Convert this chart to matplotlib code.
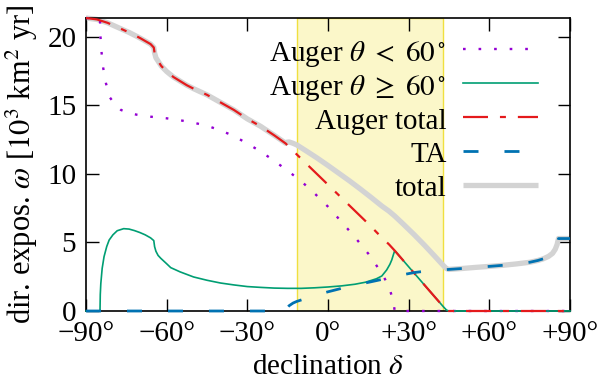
import matplotlib

matplotlib.use("Agg")
import matplotlib.pyplot as plt

# declination [deg] -> directional exposure [10^3 km^2 yr]
dec_lt60 = [-90, -87, -84.8, -84.7, -84.5, -84.2, -83.6, -82.6, -81.1, -79, -77,
            -74, -71, -66, -60, -55, -50, -45, -40, -35, -30, -25, -20, -15,
            -10, -5, 0, 5, 10, 15, 20, 22.7, 24.3, 24.8, 90]
omega_lt60 = [21.35, 21.3, 21.25, 20.3, 19.6, 18.8, 17.7, 16.6, 15.55, 15.0, 14.65,
              14.42, 14.3, 14.16, 14.04, 13.9, 13.72, 13.5, 13.16, 12.75, 12.2, 11.62,
              10.94, 10.22, 9.46, 8.57, 7.6, 6.5, 5.38, 4.17, 2.75, 1.77, 0.68, 0.0, 0.0]

dec_ge60 = [-90, -84.8, -84.7, -84.5, -84, -83.3, -82.3, -81.4, -80, -78.4, -76,
            -74, -72, -70, -68, -66, -64.8, -64.5, -64, -63.2, -62.2, -60, -58.5,
            -55, -50, -45, -40, -35, -30, -25, -20, -15, -10, -5, 0, 5, 10, 14,
            18, 20, 21.8, 23, 23.7, 24.3, 24.8, 30, 35, 40, 42.9, 44, 44.8, 90]
omega_ge60 = [0, 0, 1.2, 2.0, 3.1, 3.96, 4.7, 5.17, 5.55, 5.85, 6.0,
              5.97, 5.86, 5.72, 5.55, 5.33, 5.13, 4.69, 4.35, 4.05, 3.84, 3.44, 3.16,
              2.85, 2.48, 2.24, 2.04, 1.9, 1.78, 1.72, 1.67, 1.65, 1.65, 1.69, 1.75,
              1.83, 1.95, 2.1, 2.35, 2.55, 2.99, 3.4, 3.72, 4.1, 4.4, 3.22, 2.09,
              0.96, 0.31, 0.08, 0.0, 0.0]

dec_auger = [-90, -86, -82, -78, -74, -70, -66, -64.8, -64.5, -64, -63, -62, -60,
             -57.5, -55, -52.5, -50, -45, -40, -35, -30, -25, -20, -15.7, -15,
             -10, -5, 0, 5, 10, 15, 20, 22.7, 24.8, 30, 35, 40, 42.9, 44, 44.8, 90]
omega_auger = [21.35, 21.25, 21.0, 20.65, 20.3, 19.9, 19.45, 19.2, 18.8, 18.45,
               18.15, 17.85, 17.45, 17.05, 16.75, 16.45, 16.2, 15.75, 15.2, 14.65,
               14.0, 13.45, 12.8, 12.2, 12.05, 11.1, 10.15, 9.2, 8.25, 7.3, 6.35,
               5.35, 4.85, 4.4, 3.22, 2.09, 0.96, 0.31, 0.08, 0.0, 0.0]

dec_ta = [-90, -15.7, -15.3, -14.5, -13, -11.6, -8, -4, 0, 4, 8, 12, 16, 20, 24,
          28, 32, 36, 40, 45, 50, 55, 60, 65, 70, 75, 78, 80, 82, 83.5, 84.5,
          85.2, 85.7, 90]
omega_ta = [0, 0, 0.2, 0.38, 0.58, 0.7, 0.93, 1.18, 1.4, 1.6, 1.8, 1.97, 2.13,
            2.3, 2.48, 2.65, 2.8, 2.9, 2.97, 3.03, 3.1, 3.18, 3.25, 3.33, 3.43,
            3.55, 3.68, 3.8, 3.98, 4.2, 4.5, 4.85, 5.28, 5.28]

dec_total = [-90, -86, -82, -78, -74, -70, -66, -64.8, -64.5, -64, -63, -62, -60,
             -57.5, -55, -52.5, -50, -45, -40, -35, -30, -25, -20, -15.7, -15.3,
             -14.5, -13, -11.6, -8, -4, 0, 4, 8, 12, 16, 20, 22.7, 24.8, 28, 32,
             36, 40, 42.9, 44, 44.8, 50, 55, 60, 65, 70, 75, 78, 80, 82, 83.5,
             84.5, 85.2, 85.7, 90]
omega_total = [21.35, 21.25, 21.0, 20.65, 20.3, 19.9, 19.45, 19.2, 18.8, 18.45,
               18.15, 17.85, 17.45, 17.05, 16.75, 16.45, 16.2, 15.75, 15.2, 14.65,
               14.0, 13.45, 12.8, 12.22, 12.3, 12.32, 12.22, 12.1, 11.65, 11.14,
               10.6, 10.04, 9.48, 8.89, 8.28, 7.65, 7.27, 6.92, 6.33, 5.57, 4.77,
               3.93, 3.31, 3.1, 3.03, 3.1, 3.18, 3.25, 3.33, 3.43, 3.55, 3.68, 3.8,
               3.98, 4.2, 4.5, 4.85, 5.28, 5.28]

overlap_band = (-11.4, 42.9)
xticks = [-90, -60, -30, 0, 30, 60, 90]
xtick_labels = ["\u221290\u00b0", "\u221260\u00b0", "\u221230\u00b0", "0\u00b0",
                "+30\u00b0", "+60\u00b0", "+90\u00b0"]
yticks = [0, 5, 10, 15, 20]

plt.rcParams["font.family"] = ["Liberation Serif", "DejaVu Serif"]
plt.rcParams["mathtext.fontset"] = "stix"
plt.rcParams["font.size"] = 21
plt.rcParams["lines.scale_dashes"] = False

styles = {
    "lt60": dict(color="#9400d3", lw=1.7, dashes=(1.9, 9.3), dash_capstyle="butt"),
    "ge60": dict(color="#009e73", lw=1.2),
    "auger": dict(color="#e41a1c", lw=1.6, dashes=(18, 8.6, 4.3, 8.6)),
    "ta": dict(color="#0072b2", lw=2.0, dashes=(10.8, 18.7)),
    "total": dict(color="#d3d3d3", lw=3.8, solid_capstyle="butt"),
}

fig = plt.figure(figsize=(6.02, 3.84), dpi=100)
ax = fig.add_axes([0.1429, 0.1901, 0.804, 0.763])

ax.axvspan(*overlap_band, facecolor="#fbf7c9", edgecolor="#f0e040", lw=1.0, zorder=0)

ax.plot(dec_total, omega_total, zorder=2, clip_on=False, **styles["total"])
ax.plot(dec_lt60, omega_lt60, zorder=3, clip_on=False, **styles["lt60"])
ax.plot(dec_ge60, omega_ge60, zorder=3, clip_on=False, **styles["ge60"])
ax.plot(dec_auger, omega_auger, zorder=3, clip_on=False, **styles["auger"])
ax.plot(dec_ta, omega_ta, zorder=3, clip_on=False, **styles["ta"])

# gnuplot-style key: right-aligned labels, samples to the right
legend_rows = [
    (r"Auger $\theta\ <\ 60^\circ$", "lt60"),
    (r"Auger $\theta\ \geq\ 60^\circ$", "ge60"),
    ("Auger total", "auger"),
    ("TA", "ta"),
    ("total", "total"),
]
for i, (label, key) in enumerate(legend_rows):
    y = 0.893 - i * 0.1157
    ax.text(0.745, y - 0.039, label, transform=ax.transAxes, ha="right", va="baseline")
    ax.plot([0.779, 0.934], [y, y], transform=ax.transAxes, **styles[key])

ax.set_xlim(-90, 90)
ax.set_ylim(0, 21.35)
ax.set_xticks(xticks)
ax.set_xticklabels(xtick_labels)
ax.set_yticks(yticks)
ax.tick_params(direction="in", length=9, width=1, top=True, right=True, pad=7)
for spine in ax.spines.values():
    spine.set_linewidth(1.2)

ax.set_xlabel(r"declination $\delta$", labelpad=5)
ax.set_ylabel(r"dir. expos. $\omega$ [$10^3$ km$^2$ yr]", fontsize=22, labelpad=5)

fig.savefig("out.png", dpi=100)
